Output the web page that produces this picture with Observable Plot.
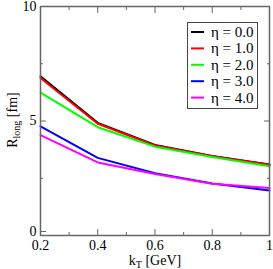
<!DOCTYPE html>
<html><head>
<meta charset="utf-8">
<script src="https://cdn.jsdelivr.net/npm/d3@7"></script>
<script src="https://cdn.jsdelivr.net/npm/@observablehq/plot@0.6"></script>
<style>
html,body{margin:0;padding:0;background:#fff;}
svg{display:block;}
</style>
</head><body>
<div id="chart"></div>
<script>
const kT = [0.2, 0.4, 0.6, 0.8, 1.0];
const eta00 = [6.95, 4.92, 3.95, 3.47, 3.10];
const eta10 = [6.88, 4.88, 3.93, 3.46, 3.09];
const eta20 = [6.24, 4.73, 3.88, 3.43, 3.02];
const eta30 = [4.77, 3.39, 2.72, 2.27, 1.97];
const eta40 = [4.38, 3.19, 2.69, 2.26, 2.07];
const seriesNames = ["η = 0.0", "η = 1.0", "η = 2.0", "η = 3.0", "η = 4.0"];
const seriesColors = ["#000000", "#ff0000", "#00ff00", "#0000ff", "#ff00ff"];
const xMajor = [0.2, 0.4, 0.6, 0.8, 1.0];
const xMinor = [0.3, 0.5, 0.7, 0.9];
const yMajor = [0, 5, 10];
const yMinor = [2.5, 7.5];
const xTickLabels = ["0.2", "0.4", "0.6", "0.8", "1"];
const yTickLabels = ["0", "5", "10"];

const allSeries = [eta00, eta10, eta20, eta30, eta40];
const rows = [];
allSeries.forEach((vals, i) => vals.forEach((v, j) => rows.push({k: kT[j], r: v, s: seriesNames[i]})));

const axisColor = "#666";
const font = "'Liberation Serif', 'DejaVu Serif', serif";

const plot = Plot.plot({
  width: 273, height: 269,
  marginLeft: 40, marginRight: 4, marginTop: 6, marginBottom: 34,
  style: {fontFamily: font, fontSize: "14px", color: "#000", background: "#fff"},
  x: {domain: [0.2, 1.0]},
  y: {domain: [0, 10]},
  color: {domain: seriesNames, range: seriesColors},
  marks: [
    Plot.lineY(rows, {x: "k", y: "r", z: "s", stroke: "s", strokeWidth: 2}),
    Plot.axisX(xMajor, {anchor: "bottom", tickSize: -6, tickPadding: 11, stroke: axisColor, tickFormat: (d, i) => xTickLabels[i], label: null, fill: "#000"}),
    Plot.axisX(xMinor, {anchor: "bottom", tickSize: -3, tickFormat: () => "", label: null, stroke: axisColor}),
    Plot.axisX(xMajor, {anchor: "top", tickSize: -6, tickFormat: () => "", label: null, stroke: axisColor}),
    Plot.axisX(xMinor, {anchor: "top", tickSize: -3, tickFormat: () => "", label: null, stroke: axisColor}),
    Plot.axisY(yMajor.slice(1), {anchor: "left", tickSize: -6, tickPadding: 10, stroke: axisColor, tickFormat: (d, i) => yTickLabels[i + 1], label: null, fill: "#000"}),
    Plot.axisY(yMajor.slice(0, 1), {anchor: "left", tickSize: -6, tickPadding: 10, stroke: axisColor, tickFormat: (d, i) => yTickLabels[i], label: null, fill: "#000", dy: -4}),
    Plot.axisY(yMinor, {anchor: "left", tickSize: -3, tickFormat: () => "", label: null, stroke: axisColor}),
    Plot.axisY(yMajor, {anchor: "right", tickSize: -6, tickFormat: () => "", label: null, stroke: axisColor}),
    Plot.axisY(yMinor, {anchor: "right", tickSize: -3, tickFormat: () => "", label: null, stroke: axisColor}),
    Plot.frame({stroke: axisColor, strokeWidth: 1.5})
  ]
});
document.getElementById("chart").appendChild(plot);

const svg = d3.select(plot);
// axis labels with subscripts
const xl = svg.append("text").attr("x", 155).attr("y", 265).attr("text-anchor", "middle")
  .attr("font-family", font).attr("font-size", 14).attr("fill", "#000");
xl.append("tspan").text("k");
xl.append("tspan").attr("font-size", 10).attr("dy", 3).text("T");
xl.append("tspan").attr("dy", -3).text(" [GeV]");

const yl = svg.append("text").attr("transform", "translate(17,120) rotate(-90)").attr("text-anchor", "middle")
  .attr("font-family", font).attr("font-size", 14).attr("fill", "#000");
yl.append("tspan").text("R");
yl.append("tspan").attr("font-size", 10).attr("dy", 3).text("long");
yl.append("tspan").attr("dy", -3).text(" [fm]");

// legend
const lg = svg.append("g").attr("text-anchor", "start");
lg.append("rect").attr("x", 187.5).attr("y", 22.5).attr("width", 70).attr("height", 86)
  .attr("fill", "#fff").attr("stroke", "#444").attr("stroke-width", 1);
seriesNames.forEach((n, i) => {
  const y = 32 + i * 16.4;
  lg.append("line").attr("x1", 191).attr("x2", 204).attr("y1", y).attr("y2", y)
    .attr("stroke", seriesColors[i]).attr("stroke-width", 2);
  lg.append("text").attr("x", 211).attr("y", y + 5).attr("font-family", font)
    .attr("font-size", 15).attr("fill", "#000").attr("text-anchor", "start").text(n);
});
</script>
</body></html>
